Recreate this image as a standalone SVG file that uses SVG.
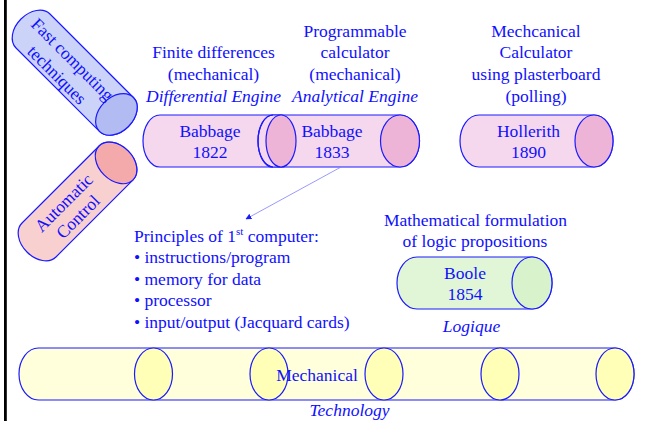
<svg xmlns="http://www.w3.org/2000/svg" width="645" height="421" viewBox="0 0 645 421">
<style>
text{font-family:"Liberation Serif","Times New Roman","DejaVu Serif",serif;font-size:17.5px;fill:#1010ff;text-anchor:middle}
.it{font-style:italic}
.st{text-anchor:start}
.o{stroke:#1a1aff;stroke-width:1.2}
.pk{fill:#f5d8ee}.pkd{fill:#eeb4d8}
.bl{fill:#ccd3f8}.bld{fill:#b2bbf2}
.rd{fill:#f9d0d0}.rdd{fill:#f4aaaa}
.gr{fill:#e0f6d6}.grd{fill:#d8f2cc}
.yl{fill:#ffffdc}.yld{fill:#ffffb8}
</style>
<defs>
<marker id="ah" viewBox="0 0 10 10" refX="9" refY="5" markerWidth="6" markerHeight="6" orient="auto" markerUnits="userSpaceOnUse">
<path d="M0,0 L10,5 L0,10 Z" fill="#1a1aff"/>
</marker>
</defs>
<rect x="4" y="0" width="2.8" height="421" fill="#000"/>

<g id="fast">
<g transform="translate(33,31) rotate(45)">
<path class="bl o" d="M0,-24 L118,-24 A17,24 0 0 1 118,24 L0,24 A17,24 0 0 1 0,-24 Z"/>
<ellipse class="bld o" cx="118" cy="0" rx="17" ry="24"/>
<text x="48" y="-2" font-size="17">Fast computing</text>
<text x="48" y="20" font-size="17">techniques</text>
</g>
</g>

<g id="auto">
<g transform="translate(39,240) rotate(-45)">
<path class="rd o" d="M0,-24 L109,-24 A17,24 0 0 1 109,24 L0,24 A17,24 0 0 1 0,-24 Z"/>
<ellipse class="rdd o" cx="109" cy="0" rx="17" ry="24"/>
<text x="44" y="-3" font-size="17">Automatic</text>
<text x="44" y="17" font-size="17">Control</text>
</g>
</g>

<g id="babbage1822">
<path class="pk o" d="M160,115 L281,115 A15,26 0 0 1 281,167 L160,167 A17,26 0 0 1 160,115 Z"/>
<text x="210" y="137">Babbage</text>
<text x="210" y="158">1822</text>
<text x="213.5" y="58">Finite differences</text>
<text x="213.5" y="80">(mechanical)</text>
<text x="213.5" y="102" class="it">Differential Engine</text>
</g>

<g id="babbage1833">
<path class="pk o" d="M273,115 L400,115 A19.5,26 0 0 1 400,167 L273,167 A15,26 0 0 1 273,115 Z"/>
<ellipse class="pkd o" cx="281" cy="141" rx="15" ry="26"/>
<path class="o" fill="none" d="M273,167 A15,26 0 0 1 273,115"/>
<ellipse class="pkd o" cx="400" cy="141" rx="19.5" ry="26"/>
<text x="332" y="137">Babbage</text>
<text x="332" y="158">1833</text>
<text x="355" y="37">Programmable</text>
<text x="355" y="58">calculator</text>
<text x="355" y="80">(mechanical)</text>
<text x="355" y="102" class="it">Analytical Engine</text>
</g>

<g id="hollerith">
<path class="pk o" d="M479,115 L594,115 A19,26 0 0 1 594,167 L479,167 A19,26 0 0 1 479,115 Z"/>
<ellipse class="pkd o" cx="594" cy="141" rx="19" ry="26"/>
<text x="528.5" y="137">Hollerith</text>
<text x="528.5" y="158">1890</text>
<text x="536" y="37">Mechcanical</text>
<text x="536" y="58">Calculator</text>
<text x="536" y="80">using plasterboard</text>
<text x="536" y="102">(polling)</text>
</g>

<g id="principles">
<text class="st" x="134" y="241.5">Principles of 1<tspan font-size="11" dy="-7">st</tspan><tspan dy="7"> computer:</tspan></text>
<text class="st" x="134" y="263">• instructions/program</text>
<text class="st" x="134" y="284.5">• memory for data</text>
<text class="st" x="134" y="306">• processor</text>
<text class="st" x="134" y="327.5">• input/output (Jacquard cards)</text>
</g>

<g id="boole">
<path class="gr o" d="M417,257 L532,257 A20,26 0 0 1 532,309 L417,309 A20,26 0 0 1 417,257 Z"/>
<ellipse class="grd o" cx="532" cy="283" rx="20" ry="26"/>
<text x="465" y="279">Boole</text>
<text x="465" y="300">1854</text>
<text x="475.5" y="226">Mathematical formulation</text>
<text x="475" y="247">of logic propositions</text>
<text x="471.5" y="332" class="it">Logique</text>
</g>

<g id="mechanical">
<path class="yl o" d="M38.5,348 L615,348 A19,26 0 0 1 615,400 L38.5,400 A19.5,26 0 0 1 38.5,348 Z"/>
<ellipse class="yld o" cx="153.5" cy="374" rx="19" ry="26"/>
<ellipse class="yld o" cx="269" cy="374" rx="19" ry="26"/>
<ellipse class="yld o" cx="384" cy="374" rx="19" ry="26"/>
<ellipse class="yld o" cx="500" cy="374" rx="19" ry="26"/>
<ellipse class="yld o" cx="615" cy="374" rx="19" ry="26"/>
<text x="317" y="381">Mechanical</text>
<text x="349.5" y="416" class="it">Technology</text>
</g>

<g id="connectors">
<line x1="341" y1="167" x2="246" y2="219" stroke="#7f7fff" stroke-width="0.8" marker-end="url(#ah)"/>
</g>
</svg>
